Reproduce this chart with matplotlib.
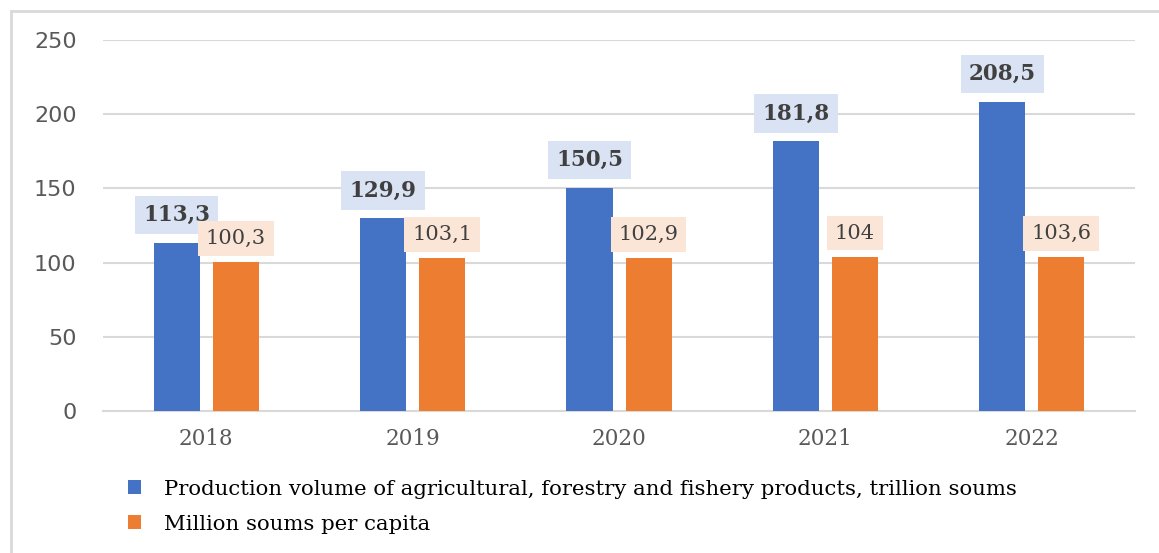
import matplotlib
matplotlib.use("Agg")
import matplotlib.pyplot as plt
import numpy as np
from matplotlib.lines import Line2D

years = ["2018", "2019", "2020", "2021", "2022"]
production = [113.3, 129.9, 150.5, 181.8, 208.5]
per_capita = [100.3, 103.1, 102.9, 104, 103.6]
label_prod = "Production volume of agricultural, forestry and fishery products, trillion soums"
label_cap = "Million soums per capita"

blue = "#4472c4"
orange = "#ed7d31"
grid_col = "#d9d9d9"
text_col = "#595959"

def fmt(v):  # comma as decimal separator
    s = ("%.1f" % v).rstrip("0").rstrip(".")
    return s.replace(".", ",")

fig = plt.figure(figsize=(11.59, 5.53), dpi=100)
ax = fig.add_axes([0.0889, 0.2568, 0.8904, 0.6709])

x = np.arange(len(years))
w = 0.223
off = 0.143
b1 = ax.bar(x - off, production, w, color=blue, label=label_prod, zorder=3)
b2 = ax.bar(x + off, per_capita, w, color=orange, label=label_cap, zorder=3)

for xi, v in zip(x, production):
    ax.annotate(fmt(v), (xi - off, v), xytext=(0, 20), textcoords="offset points",
                ha="center", va="center", fontsize=15.5, fontweight="bold",
                family="DejaVu Serif", color="#404040", zorder=5,
                bbox=dict(boxstyle="square,pad=0.38", fc="#dae3f3", ec="none"))
for xi, v in zip(x, per_capita):
    ax.annotate(fmt(v), (xi + off, v), xytext=(0, 17), textcoords="offset points",
                ha="center", va="center", fontsize=15,
                family="DejaVu Serif", color="#404040", zorder=5,
                bbox=dict(boxstyle="square,pad=0.38", fc="#fbe5d6", ec="none"))

ax.set_xlim(-0.5, 4.5)
ax.set_ylim(0, 250)
ax.set_yticks([0, 50, 100, 150, 200, 250])
ax.set_xticks(x)
ax.set_xticklabels(years, family="DejaVu Serif", fontsize=15.5, color=text_col)
ax.tick_params(axis="y", length=0, pad=19, labelsize=16, labelcolor=text_col)
ax.tick_params(axis="x", length=0, pad=12)
ax.grid(axis="y", color=grid_col, linewidth=1.5, zorder=0)
for sp in ["top", "right", "left"]:
    ax.spines[sp].set_visible(False)
ax.spines["bottom"].set_color(grid_col)
ax.spines["bottom"].set_linewidth(1.5)

fig.legend(handles=[b1, b2], loc="upper left", bbox_to_anchor=(0.103, 0.148),
           frameon=False, prop={"family": "DejaVu Serif", "size": 15.3},
           handlelength=0.6, handleheight=0.6, handletextpad=1.1,
           labelspacing=0.75, borderaxespad=0)

# outer frame (left and top edges visible)
fig.add_artist(Line2D([11 / 1159, 11 / 1159], [0, 1 - 11 / 553],
                      color=grid_col, lw=2, transform=fig.transFigure))
fig.add_artist(Line2D([11 / 1159, 1], [1 - 11 / 553, 1 - 11 / 553],
                      color=grid_col, lw=2, transform=fig.transFigure))

fig.savefig("out.png", dpi=100)
